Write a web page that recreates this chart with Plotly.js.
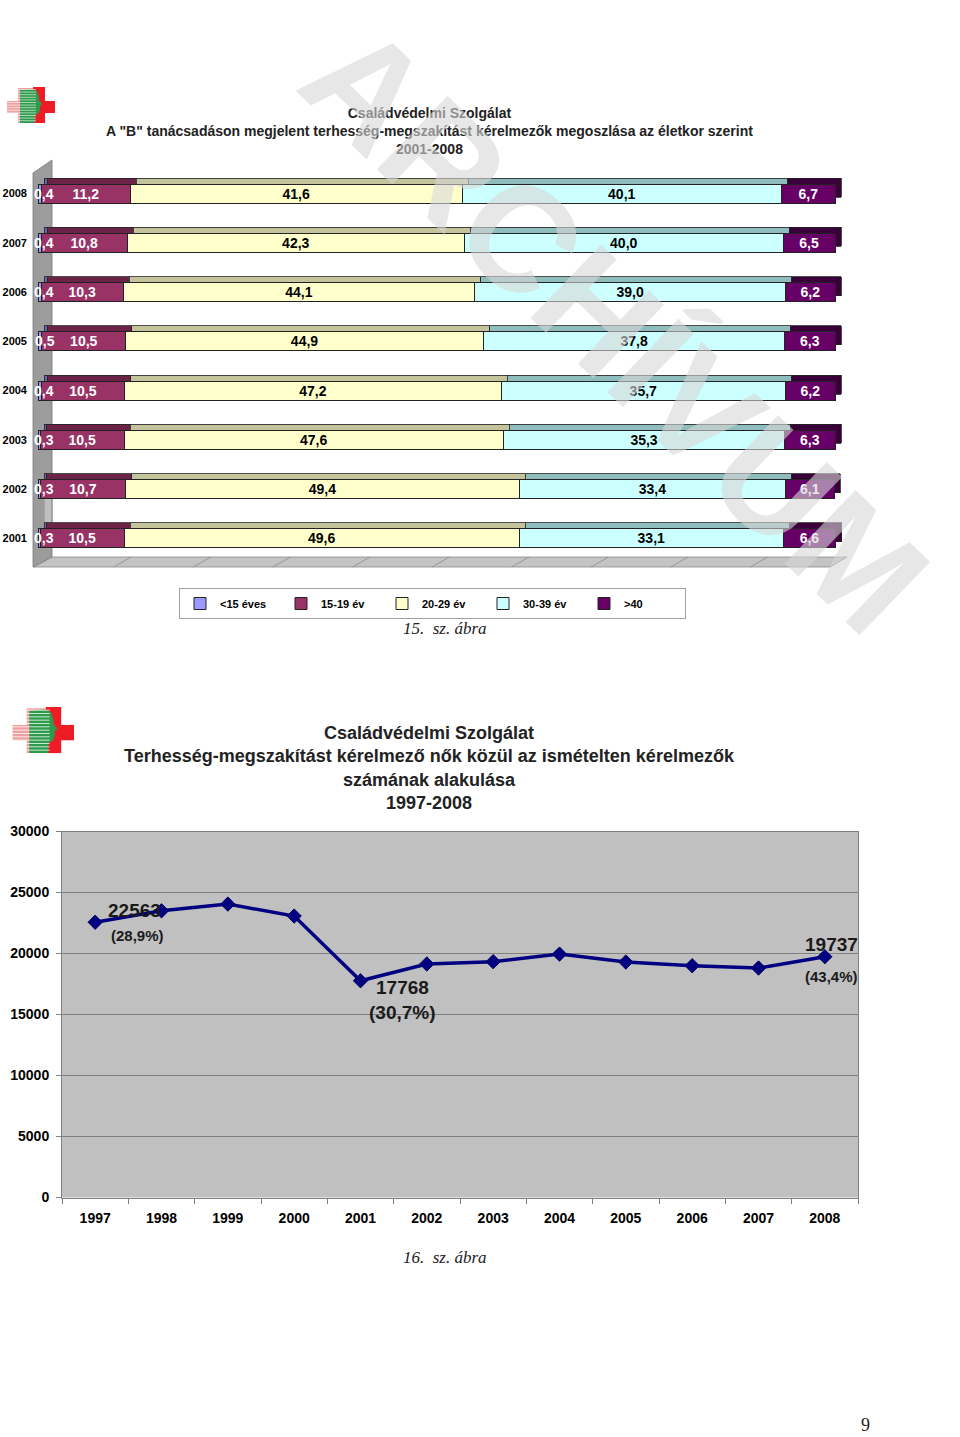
<!DOCTYPE html>
<html><head><meta charset="utf-8">
<script src="https://cdn.plot.ly/plotly-3.0.1.min.js"></script>
<style>html,body{margin:0;padding:0;background:#fff}#chart{width:960px;height:1437px}</style>
</head><body><div id="chart"></div>
<script>
// ---------- data: chart 15 (stacked percentage bars) ----------
const barYears = ['2001','2002','2003','2004','2005','2006','2007','2008'];
const ageGroups = ['<15 éves','15-19 év','20-29 év','30-39 év','>40'];
const under15  = [0.3, 0.3, 0.3, 0.4, 0.5, 0.4, 0.4, 0.4];
const age15_19 = [10.5,10.7,10.5,10.5,10.5,10.3,10.8,11.2];
const age20_29 = [49.6,49.4,47.6,47.2,44.9,44.1,42.3,41.6];
const age30_39 = [33.1,33.4,35.3,35.7,37.8,39.0,40.0,40.1];
const over40   = [6.6, 6.1, 6.3, 6.2, 6.3, 6.2, 6.5, 6.7];
const pctTicks = [0,10,20,30,40,50,60,70,80,90,100];

// ---------- data: chart 16 (line) ----------
const lineYears = ['1997','1998','1999','2000','2001','2002','2003','2004','2005','2006','2007','2008'];
const repeatRequests = [22563,23500,24050,23070,17768,19140,19330,19950,19300,19000,18810,19737];
const noteYears = ['1997','2001','2008'];
const notePcts  = [28.9, 30.7, 43.4];

// ---------- helpers ----------
const W = 960, H = 1437;
const dx = (a,b) => [a/W, b/W];
const dy = (top,bottom) => [1-bottom/H, 1-top/H];
const px = x => x/W, py = y => 1-y/H;
const FONT = 'Liberation Sans, Arial, sans-serif';
const SERIF = 'Liberation Serif, Times New Roman, serif';

const series = [under15, age15_19, age20_29, age30_39, over40];
const frontColors = ['#9999ff','#993366','#ffffcc','#ccffff','#660066'];
const backColors  = ['#6666b0','#6b2347','#c4c49c','#8fbcbc','#3a003a'];
const textColors  = ['#ffffff','#ffffff','#000000','#000000','#ffffff'];
const BAR_RANGE = [0, 100.25];

const traces = [];
// back (depth) bars
series.forEach((vals,i) => {
  traces.push({type:'bar', orientation:'h', x:vals, y:barYears, xaxis:'x2', yaxis:'y2',
    width:0.39, marker:{color:backColors[i], line:{color:'#222', width:0.8}},
    textposition:'none', hoverinfo:'skip', showlegend:false, cliponaxis:false});
});
// front bars
series.forEach((vals,i) => {
  traces.push({type:'bar', orientation:'h', x:vals, y:barYears, xaxis:'x3', yaxis:'y3',
    name:ageGroups[i], width:0.39,
    marker:{color:frontColors[i], line:{color:'#222', width:1}},
    texttemplate:'%{x:.1f}', textposition: i === 0 ? 'none' : 'inside', insidetextanchor:'middle', textangle:0,
    constraintext:'none', cliponaxis:false,
    textfont:{family:FONT, size:14, weight:'bold', color:textColors[i]},
    showlegend:true});
});
// line chart
traces.push({type:'scatter', mode:'lines+markers', x:lineYears, y:repeatRequests,
  xaxis:'x5', yaxis:'y5', showlegend:false,
  line:{color:'#000080', width:3.5},
  marker:{symbol:'diamond', size:11, color:'#000080', line:{color:'#000060', width:1}}});

// ---------- logo shapes (decoration) ----------
function logo(ox, oy, s){
  const X = v => px(ox + v*s), Y = v => py(oy + v*s);
  const rect = (x0,y0,x1,y1,c) => ({type:'rect', xref:'paper', yref:'paper', x0:X(x0), x1:X(x1), y0:Y(y0), y1:Y(y1), fillcolor:c, line:{width:0}, layer:'above'});
  const out = [];
  out.push(rect(2,14,28,26,'#f0a0a0'));
  out.push(rect(13,1,28,36,'#f0a0a0'));
  out.push(rect(28,0,40,36,'#ee1c25'));
  out.push(rect(28,14,50,26,'#ee1c25'));
  const pts = [[15,3],[27,2],[32,4],[34,10],[34,13],[37,17],[35,19],[35,23],[33,27],[30,28],[30,36],[15,36]];
  out.push({type:'path', xref:'paper', yref:'paper', layer:'above',
    path:'M'+pts.map(p=>X(p[0])+','+Y(p[1])).join(' L')+' Z', fillcolor:'#2e9a4c', line:{width:0}});
  let d = '';
  for (let v=2.5; v<36; v+=2.6) d += `M${X(1)},${Y(v)} L${X(31)},${Y(v)} `;
  out.push({type:'path', xref:'paper', yref:'paper', layer:'above', path:d, line:{color:'#ffffff', width:0.6*s}});
  return out;
}

// ---------- 3D walls ----------
const X4 = dx(34,830), X1 = dx(52,847);
let floorLines = '';
pctTicks.forEach(t => {
  const f = X4[0] + (X4[1]-X4[0])*t/100, b = X1[0] + (X1[1]-X1[0])*t/100;
  floorLines += `M${f},${py(567)} L${b},${py(557)} `;
});
const shapes = [
  {type:'rect', xref:'x domain', yref:'y domain', x0:0, x1:1, y0:0, y1:1, fillcolor:'#c0c0c0', line:{color:'#8a8a8a', width:1}, layer:'below'},
  {type:'path', xref:'paper', yref:'paper', layer:'below', fillcolor:'#9c9c9c', line:{color:'#7a7a7a', width:0.8},
    path:`M${px(33)},${py(173)} L${px(52)},${py(160)} L${px(52)},${py(557)} L${px(33)},${py(567)} Z`},
  {type:'path', xref:'paper', yref:'paper', layer:'below', fillcolor:'#c4c4c4', line:{color:'#8a8a8a', width:0.8},
    path:`M${px(33)},${py(567)} L${px(52)},${py(557)} L${px(847)},${py(557)} L${px(830)},${py(567)} Z`},
  {type:'path', xref:'paper', yref:'paper', layer:'below', path:floorLines, line:{color:'#8a8a8a', width:0.8}},
  {type:'rect', xref:'x5 domain', yref:'y5 domain', x0:0, x1:1, y0:0, y1:1, fillcolor:'#c0c0c0', line:{width:0}, layer:'below'}
].concat(logo(5,87,1), logo(10,707,1.28));

// ---------- annotations ----------
const fmt = v => String(v).replace('.', ',');
const mid = {xanchor:'center', yanchor:'middle', showarrow:false};
const annotations = [
  Object.assign({xref:'paper', yref:'paper', x:px(429), y:py(131),
   text:'Családvédelmi Szolgálat<br>A "B" tanácsadáson megjelent terhesség-megszakítást kérelmezők megoszlása az életkor szerint<br>2001-2008',
   font:{family:FONT, size:14, weight:'bold', color:'#222'}}, mid),
  Object.assign({xref:'paper', yref:'paper', x:px(429), y:py(768),
   text:'Családvédelmi Szolgálat<br>Terhesség-megszakítást kérelmező nők közül az ismételten kérelmezők<br>számának alakulása<br>1997-2008',
   font:{family:FONT, size:18, weight:'bold', color:'#222'}}, mid),
  Object.assign({xref:'paper', yref:'paper', x:px(445), y:py(628), text:'15.  sz. ábra',
   font:{family:SERIF, size:17, style:'italic', color:'#222'}}, mid),
  Object.assign({xref:'paper', yref:'paper', x:px(445), y:py(1257), text:'16.  sz. ábra',
   font:{family:SERIF, size:17, style:'italic', color:'#222'}}, mid),
  Object.assign({xref:'paper', yref:'paper', x:px(865), y:py(1425), text:'9',
   font:{family:SERIF, size:18, color:'#222'}}, mid)
];
// labels of the thin "<15 éves" segments (drawn above the neighbouring bars)
barYears.forEach((yr,i) => {
  annotations.push(Object.assign({xref:'x3', yref:'y3', x:under15[i]/2 + 0.6, y:i,
    text:(under15[i].toFixed(1)).replace('.', ','), font:{family:FONT, size:14, weight:'bold', color:'#ffffff'}}, mid));
});
const noteStyle = {
  '1997': {vs:[39,12,19], ps:[42,-13,15]},
  '2001': {vs:[42,-7,19], ps:[42,-32,19]},
  '2008': {vs:[7,12,19],  ps:[7,-20,15]}
};
noteYears.forEach((yr,i) => {
  const idx = lineYears.indexOf(yr);
  const v = repeatRequests[idx];
  const st = noteStyle[yr];
  annotations.push(Object.assign({xref:'x5', yref:'y5', x:idx, y:v, text:String(v),
    xshift:st.vs[0], yshift:st.vs[1], font:{family:FONT, size:st.vs[2], weight:'bold', color:'#1a1a1a'}}, mid));
  annotations.push(Object.assign({xref:'x5', yref:'y5', x:idx, y:v, text:'('+fmt(notePcts[i])+'%)',
    xshift:st.ps[0], yshift:st.ps[1], font:{family:FONT, size:st.ps[2], weight:'bold', color:'#1a1a1a'}}, mid));
});
// watermark
annotations.push(Object.assign({xref:'paper', yref:'paper', x:px(616), y:py(328), text:'ARCHÍVUM',
  textangle:44, font:{family:FONT, size:148, weight:'bold', color:'rgba(215,215,215,0.6)'}}, mid));

const hidden = {visible:false, fixedrange:true};
const layout = {
  width:W, height:H, margin:{l:0,r:0,t:0,b:0},
  paper_bgcolor:'#ffffff', plot_bgcolor:'rgba(0,0,0,0)',
  separators:', ', barmode:'stack', showlegend:true,
  font:{family:FONT, color:'#000'},
  xaxis:{domain:X1, range:[0,100], tickvals:pctTicks, showgrid:true, gridcolor:'#8a8a8a', gridwidth:1,
         showticklabels:false, ticks:'', zeroline:false, showline:false, anchor:'y', fixedrange:true},
  yaxis:{domain:dy(160,557), range:[0,1], showgrid:false, showticklabels:false, zeroline:false, showline:false, anchor:'x', fixedrange:true},
  xaxis2:Object.assign({domain:dx(44,843), range:BAR_RANGE, anchor:'y2'}, hidden),
  yaxis2:Object.assign({domain:dy(163,557), type:'category', range:[-0.5,7.5], anchor:'x2'}, hidden),
  xaxis3:Object.assign({domain:dx(38,837), range:BAR_RANGE, anchor:'y3'}, hidden),
  yaxis3:{domain:dy(169,563), type:'category', range:[-0.5,7.5], anchor:'x3', showgrid:false, zeroline:false,
          showline:false, ticks:'', ticklabelstandoff:10, tickfont:{family:FONT, size:11, weight:'bold', color:'#000'}, fixedrange:true},
  xaxis4:{domain:X4, range:[0,100], tickvals:pctTicks, ticksuffix:'%', ticks:'outside', ticklen:5, tickcolor:'#808080',
          showgrid:false, zeroline:false, showline:false, anchor:'y4', tickfont:{family:FONT, size:11, weight:'bold', color:'#000'}, fixedrange:true},
  yaxis4:Object.assign({domain:dy(170,567), range:[0,1], anchor:'x4'}, hidden),
  xaxis5:{domain:dx(62,858), type:'category', range:[-0.5,11.5], anchor:'y5', ticks:'outside', tickson:'boundaries',
          ticklen:5, tickcolor:'#808080', showline:true, mirror:true, linecolor:'#808080', linewidth:1, showgrid:false,
          ticklabelstandoff:8, tickfont:{family:FONT, size:14, weight:'bold', color:'#000'}, fixedrange:true},
  yaxis5:{domain:dy(831.5,1197.5), range:[0,30000], dtick:5000, tickformat:'d', anchor:'x5', ticks:'outside', ticklen:5,
          tickcolor:'#808080', showgrid:true, gridcolor:'#808080', gridwidth:1, zeroline:false, showline:true, mirror:true,
          linecolor:'#808080', linewidth:1, ticklabelstandoff:4, tickfont:{family:FONT, size:14, weight:'bold', color:'#000'}, fixedrange:true},
  legend:{orientation:'h', x:px(179), y:py(588), xanchor:'left', yanchor:'top', traceorder:'normal',
          bgcolor:'#ffffff', bordercolor:'#a0a0a0', borderwidth:1, entrywidth:56, entrywidthmode:'pixels', itemwidth:30,
          font:{family:FONT, size:11, weight:'bold', color:'#000'}},
  shapes:shapes, annotations:annotations
};
Plotly.newPlot('chart', traces, layout, {displayModeBar:false, staticPlot:true});
</script></body></html>
